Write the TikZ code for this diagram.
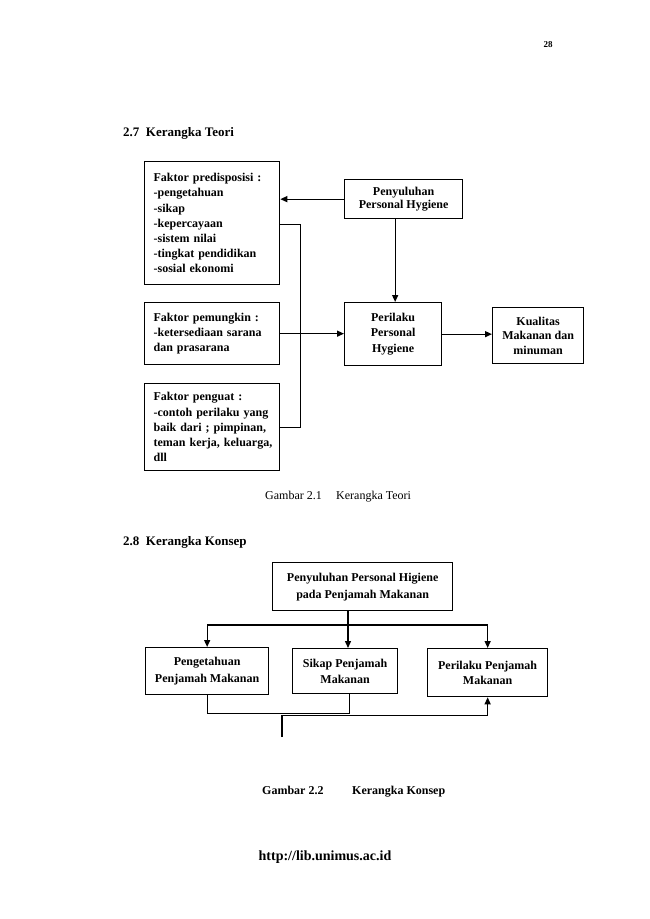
\documentclass[tikz,border=0pt]{standalone}
\usepackage{fontspec}
\setmainfont{Liberation Serif}
\usetikzlibrary{arrows.meta}
\begin{document}
\begin{tikzpicture}[x=1pt,y=-1pt,
  box/.style={draw, line width=1.3pt, inner sep=0pt, font=\fontsize{12}{15.2}\selectfont\bfseries},
  lbox/.style={box, align=left, inner xsep=4pt, execute at begin node={\leftskip=5pt}},
  cbox/.style={box, align=center},
  arr/.style={line width=1.3pt, -{Triangle[length=7pt,width=6pt]}},
  thickline/.style={line width=1.3pt},
  thinline/.style={line width=0.6pt},
  lbl/.style={inner sep=0pt, anchor=base west},
]
\useasboundingbox (0,0) rectangle (650,919);

% page number and headings
\node[inner sep=0pt, anchor=base, font=\fontsize{9}{10}\selectfont\bfseries] (pnum) at (548,47) {28};
\node[lbl, font=\fontsize{13}{15}\selectfont\bfseries] (h1) at (123,136) {2.7\ \ Kerangka Teori};
\node[lbl, font=\fontsize{13}{15}\selectfont\bfseries] (h2) at (123,545) {2.8\ \ Kerangka Konsep};

% Kerangka Teori
\node[lbox, text width=127pt, minimum height=123pt, anchor=north west] (b1) at (144,161)
  {Faktor predisposisi :\\-pengetahuan\\-sikap\\-kepercayaan\\-sistem nilai\\-tingkat pendidikan\\-sosial ekonomi};
\node[lbox, text width=127pt, minimum height=62pt, anchor=north west] (b2) at (144,302)
  {Faktor pemungkin :\\-ketersediaan sarana\\dan prasarana};
\node[lbox, text width=127pt, minimum height=87pt, anchor=north west] (b3) at (144,383)
  {Faktor penguat :\\-contoh perilaku yang\\baik dari ; pimpinan,\\teman kerja, keluarga,\\dll};
\node[cbox, minimum width=118pt, minimum height=39pt, anchor=north west,
  font=\fontsize{12}{13.5}\selectfont\bfseries] (pen) at (344,179)
  {Penyuluhan\\Personal Hygiene};
\node[cbox, minimum width=97pt, minimum height=63pt, anchor=north west] (per) at (344,302)
  {Perilaku\\Personal\\Hygiene};
\node[cbox, minimum width=91pt, minimum height=56pt, anchor=north west,
  font=\fontsize{12}{14.5}\selectfont\bfseries] (kua) at (492,307)
  {Kualitas\\Makanan dan\\minuman};

\draw[arr] (pen.west) -- (pen.west -| b1.east);
\draw[arr] ([xshift=2pt]per.north |- pen.south) -- ([xshift=2pt]per.north);
\draw[arr] (b2.east) -- (b2.east -| per.west);
\draw[arr] (per.east) -- (per.east -| kua.west);
\draw[thinline] ([yshift=-1.5pt]b1.east) -- ++(20,0) coordinate (tv) |- (b3.east);

\node[lbl, font=\fontsize{12}{14}\selectfont] (cap1a) at (265,499) {Gambar 2.1};
\node[lbl, font=\fontsize{12}{14}\selectfont] (cap1b) at (336,499) {Kerangka Teori};

% Kerangka Konsep
\node[cbox, minimum width=180pt, minimum height=48pt, anchor=north west,
  font=\fontsize{12}{17}\selectfont\bfseries] (top) at (272,562)
  {Penyuluhan Personal Higiene\\pada Penjamah Makanan};
\node[cbox, minimum width=123pt, minimum height=47pt, anchor=north west,
  font=\fontsize{12}{16.5}\selectfont\bfseries] (pg) at (145,647)
  {Pengetahuan\\Penjamah Makanan};
\node[cbox, minimum width=105pt, minimum height=45pt, anchor=north west,
  font=\fontsize{12}{16.5}\selectfont\bfseries] (sk) at (292,648)
  {Sikap Penjamah\\Makanan};
\node[cbox, minimum width=120pt, minimum height=48pt, anchor=north west,
  font=\fontsize{12}{14.5}\selectfont\bfseries] (pj) at (427,648)
  {Perilaku Penjamah\\Makanan};

\coordinate (j) at (348,625);
\draw[thickline] (pg.north |- j) -- (pj.north |- j);
\draw[arr] (j |- top.south) -- (j |- sk.north);
\draw[arr] (pg.north |- j) -- (pg.north);
\draw[arr] (pj.north |- j) -- (pj.north);

\coordinate (e) at (282,737);
\draw[thinline] (pg.south) |- ([xshift=4pt,yshift=-19pt]sk.south) -- ([xshift=4pt]sk.south);
\draw[arr] (e) |- ([yshift=-18pt]pj.south) -- (pj.south);

\node[lbl, font=\fontsize{12}{14}\selectfont\bfseries] (cap2a) at (262,794) {Gambar 2.2};
\node[lbl, font=\fontsize{12}{14}\selectfont\bfseries] (cap2b) at (352,794) {Kerangka Konsep};

\node[inner sep=0pt, anchor=base, font=\fontsize{14}{16}\selectfont\bfseries] (url) at (325,860) {http://lib.unimus.ac.id};
\end{tikzpicture}
\end{document}
